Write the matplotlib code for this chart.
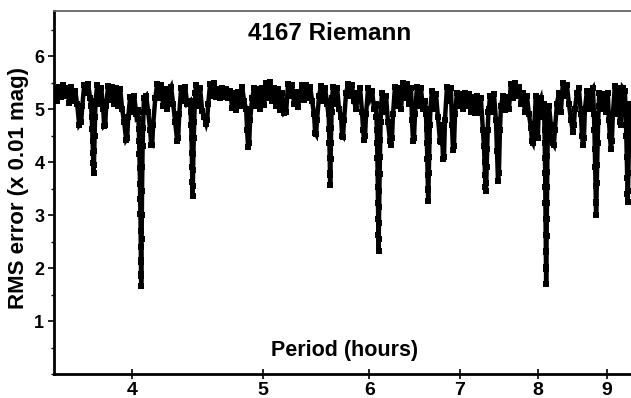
import matplotlib
matplotlib.use("Agg")
import matplotlib.pyplot as plt
from matplotlib.ticker import FixedLocator, NullLocator, MultipleLocator, FixedFormatter

plt.rcParams['font.family'] = ['Liberation Sans', 'DejaVu Sans']
plt.rcParams['font.weight'] = 'bold'

# period spectrum of 4167 Riemann
period = [
    3.507, 3.519, 3.531, 3.543, 3.555, 3.567, 3.580, 3.592, 3.604, 3.617,
    3.629, 3.641, 3.654, 3.666, 3.673, 3.685, 3.698, 3.710, 3.723,
    3.729, 3.733, 3.736, 3.738, 3.741, 3.743, 3.745, 3.747, 3.749, 3.751, 3.754, 3.757,
    3.768, 3.781, 3.794, 3.807, 3.813, 3.820, 3.826, 3.839, 3.852, 3.865,
    3.879, 3.892, 3.906, 3.919, 3.932, 3.946, 3.959, 3.966, 3.973, 3.986,
    4.000, 4.014, 4.028,
    4.040, 4.043, 4.046, 4.048, 4.050, 4.052, 4.054, 4.055, 4.057, 4.058,
    4.059, 4.060, 4.061, 4.062, 4.063, 4.064, 4.065, 4.066, 4.068, 4.070,
    4.072, 4.075, 4.078, 4.081,
    4.097, 4.111, 4.125, 4.132, 4.139, 4.146, 4.161, 4.175, 4.189, 4.203,
    4.218, 4.232, 4.247, 4.261, 4.275, 4.290, 4.305, 4.320, 4.327, 4.335,
    4.349, 4.364, 4.379, 4.394,
    4.415, 4.420, 4.424, 4.427, 4.429, 4.431, 4.433, 4.435, 4.437, 4.439,
    4.441, 4.444, 4.447, 4.451, 4.456,
    4.461, 4.477, 4.492, 4.508, 4.523, 4.539, 4.547, 4.555, 4.570, 4.586,
    4.602, 4.617, 4.633, 4.649, 4.665, 4.681, 4.697, 4.713, 4.729, 4.745,
    4.761, 4.778, 4.794, 4.810, 4.827, 4.843, 4.860, 4.868, 4.876, 4.885,
    4.893, 4.910, 4.927, 4.943, 4.960, 4.977, 4.994, 5.011, 5.029, 5.046,
    5.063, 5.080, 5.098, 5.115, 5.133, 5.150, 5.168, 5.186, 5.204, 5.221,
    5.239, 5.257, 5.275, 5.293, 5.311, 5.329, 5.347, 5.366, 5.384, 5.403,
    5.421, 5.440, 5.458, 5.468, 5.477, 5.486, 5.505, 5.523, 5.543, 5.562,
    5.581,
    5.590, 5.596, 5.600, 5.603, 5.606, 5.608, 5.610, 5.612, 5.614, 5.617,
    5.620, 5.624, 5.628,
    5.638, 5.657, 5.677, 5.696, 5.716, 5.726, 5.735, 5.745, 5.765, 5.784,
    5.804, 5.824, 5.844, 5.864, 5.884, 5.904, 5.924, 5.935, 5.945, 5.955,
    5.965, 5.986, 6.006, 6.027, 6.047,
    6.066, 6.072, 6.076, 6.079, 6.082, 6.084, 6.086, 6.088, 6.090, 6.092,
    6.094, 6.096, 6.098, 6.100, 6.102, 6.105, 6.108, 6.111, 6.115, 6.120,
    6.130, 6.151, 6.172, 6.193, 6.214, 6.225, 6.235, 6.246, 6.267, 6.289,
    6.310, 6.332, 6.354, 6.375, 6.397, 6.419, 6.441, 6.452, 6.463, 6.474,
    6.485, 6.507, 6.529, 6.551, 6.574,
    6.600, 6.608, 6.614, 6.619, 6.623, 6.627, 6.630, 6.633, 6.636, 6.639,
    6.643, 6.647, 6.652, 6.658,
    6.676, 6.699, 6.722, 6.745, 6.768, 6.780, 6.791, 6.803, 6.815, 6.826,
    6.849, 6.872, 6.896, 6.908, 6.920, 6.932, 6.944, 6.967, 6.991, 7.015,
    7.039, 7.064, 7.088, 7.112, 7.136, 7.161, 7.185, 7.210, 7.234, 7.258,
    7.284,
    7.296, 7.304, 7.310, 7.315, 7.320, 7.325, 7.330, 7.336, 7.343, 7.352,
    7.359, 7.371, 7.396, 7.422, 7.447, 7.460, 7.473, 7.485, 7.498, 7.511,
    7.537, 7.562, 7.588, 7.614, 7.640, 7.667, 7.693, 7.719, 7.746, 7.772,
    7.799, 7.825, 7.852, 7.879, 7.906, 7.919, 7.933, 7.946, 7.973, 8.000,
    8.014, 8.042, 8.069,
    8.082, 8.088, 8.092, 8.095, 8.098, 8.100, 8.102, 8.104, 8.106, 8.108,
    8.110, 8.112, 8.114, 8.116, 8.118, 8.120, 8.122, 8.124, 8.126, 8.129,
    8.132, 8.136, 8.140, 8.146,
    8.155, 8.180, 8.208, 8.222, 8.236, 8.265, 8.293, 8.321, 8.350, 8.378,
    8.407, 8.436, 8.465, 8.494, 8.508, 8.523, 8.552, 8.581, 8.611, 8.626,
    8.640, 8.655, 8.670, 8.700, 8.729, 8.759, 8.789,
    8.805, 8.812, 8.818, 8.823, 8.828, 8.833, 8.837, 8.842, 8.847, 8.853,
    8.860, 8.868, 8.877,
    8.885, 8.925, 8.955, 8.986, 9.016, 9.032, 9.047, 9.063, 9.078, 9.094,
    9.125, 9.156, 9.187, 9.203, 9.219, 9.250, 9.282,
    9.296, 9.305, 9.312, 9.318, 9.323, 9.328, 9.333, 9.338, 9.345, 9.353,
    9.362, 9.370, 9.385,
]

rms = [
    5.38, 5.15, 5.42, 5.22, 5.45, 5.25, 5.40, 5.12, 5.42, 5.15,
    5.35, 5.10, 4.70, 4.75, 5.05, 5.45, 5.30, 5.48, 5.20,
    5.05, 4.85, 4.62, 4.40, 4.18, 3.98, 3.80, 3.95, 4.20, 4.50, 4.85, 5.15,
    5.45, 5.10, 5.40, 5.00, 4.68, 4.70, 5.05, 5.44, 5.18, 5.42,
    5.10, 5.40, 5.05, 5.38, 5.00, 4.75, 4.42, 4.45, 4.85, 5.22,
    4.95, 5.25, 4.90,
    4.98, 4.82, 4.62, 4.40, 4.15, 3.88, 3.58, 3.30, 3.02, 2.70,
    2.40, 2.12, 1.88, 1.66, 1.85, 2.15, 2.55, 3.00, 3.45, 3.90,
    4.30, 4.65, 4.95, 5.20,
    5.25, 4.95, 4.60, 4.33, 4.32, 4.70, 5.20, 5.48, 5.20, 5.45,
    5.05, 5.38, 5.00, 5.35, 5.42, 5.10, 4.75, 4.40, 4.45, 4.90,
    5.40, 5.15, 5.42, 5.10,
    5.15, 4.95, 4.70, 4.45, 4.18, 3.90, 3.62, 3.36, 3.55, 3.85,
    4.15, 4.45, 4.75, 5.05, 5.30,
    5.45, 5.05, 5.40, 4.97, 4.85, 4.72, 4.80, 5.10, 5.48, 5.25,
    5.50, 5.22, 5.38, 5.20, 5.40, 5.22, 5.38, 5.20, 5.35, 5.02,
    5.30, 4.98, 5.32, 5.05, 5.42, 5.15, 5.00, 4.60, 4.28, 4.35,
    4.80, 5.20, 5.40, 5.05, 5.38, 5.00, 5.40, 5.08, 5.50, 5.20,
    5.52, 5.15, 5.40, 5.05, 5.38, 4.98, 5.30, 4.92, 4.95, 5.48,
    5.25, 5.45, 5.10, 5.32, 5.03, 5.30, 5.45, 5.18, 5.45, 5.20,
    5.42, 5.15, 4.90, 4.55, 4.52, 4.80, 5.25, 5.44, 5.15, 5.40,
    5.10,
    5.15, 4.90, 4.62, 4.35, 4.08, 3.80, 3.56, 3.75, 4.05, 4.35,
    4.65, 4.95, 5.20,
    5.42, 5.10, 5.40, 5.00, 4.85, 4.50, 4.48, 4.80, 5.30, 5.47,
    5.25, 5.45, 5.15, 5.00, 5.30, 5.40, 4.95, 4.60, 4.42, 4.50,
    4.90, 5.40, 5.22, 5.35, 5.00,
    5.10, 4.85, 4.60, 4.35, 4.08, 3.80, 3.52, 3.22, 2.92, 2.62,
    2.32, 2.55, 2.85, 3.15, 3.45, 3.78, 4.10, 4.42, 4.75, 5.05,
    5.30, 4.95, 5.25, 4.75, 4.40, 4.32, 4.45, 4.90, 5.42, 5.05,
    5.40, 5.00, 5.50, 5.20, 5.48, 5.10, 5.40, 4.80, 4.40, 4.45,
    4.90, 5.42, 5.05, 5.40, 5.00,
    5.15, 4.90, 4.62, 4.35, 4.05, 3.75, 3.48, 3.26, 3.50, 3.80,
    4.10, 4.40, 4.70, 5.00,
    5.35, 5.00, 5.28, 4.85, 4.40, 4.37, 4.70, 4.05, 4.10, 4.80,
    5.42, 5.15, 5.40, 4.70, 4.22, 4.30, 4.90, 5.30, 5.05, 5.28,
    5.00, 5.30, 5.05, 5.28, 4.95, 5.22, 4.93, 5.25, 4.92, 5.20,
    4.60,
    4.30, 4.00, 3.75, 3.52, 3.46, 3.60, 3.90, 4.25, 4.60, 4.95,
    5.00, 5.25, 4.95, 5.28, 4.80, 4.20, 3.65, 3.80, 4.60, 5.05,
    5.25, 4.98, 5.22, 5.00, 5.48, 5.20, 5.50, 5.25, 5.42, 5.10,
    5.30, 4.95, 5.25, 4.90, 4.65, 4.40, 4.36, 4.55, 5.25, 4.45,
    5.10, 5.20, 4.85,
    5.10, 4.85, 4.60, 4.35, 4.08, 3.80, 3.52, 3.22, 2.92, 2.62,
    2.32, 2.02, 1.70, 1.98, 2.30, 2.60, 2.92, 3.22, 3.52, 3.82,
    4.12, 4.42, 4.72, 5.00,
    5.05, 4.70, 4.35, 4.32, 4.60, 5.10, 5.30, 4.95, 5.50, 5.25,
    5.45, 5.10, 4.80, 4.56, 4.70, 5.00, 5.30, 5.40, 4.90, 4.50,
    4.33, 4.45, 5.00, 5.35, 5.00, 5.35, 5.40,
    4.90, 4.60, 4.25, 3.90, 3.55, 3.22, 3.00, 3.25, 3.60, 3.95,
    4.35, 4.75, 5.05,
    5.30, 5.00, 5.28, 4.95, 5.30, 4.80, 4.50, 4.25, 4.40, 4.90,
    5.44, 4.90, 5.40, 4.75, 4.70, 5.40, 5.35,
    4.90, 4.50, 4.10, 3.70, 3.40, 3.25, 3.45, 3.80, 4.20, 4.60,
    5.00, 5.10, 5.00,
]

x_ticks = [4, 5, 6, 7, 8, 9]
y_ticks = [1, 2, 3, 4, 5, 6]

fig = plt.figure(figsize=(6.31, 3.98), dpi=100)
ax = fig.add_axes([0.0856, 0.0603, 0.9144, 0.912])

ax.plot(period, rms, color='black', lw=3.2, marker='s', ms=4.2,
        markeredgewidth=0, solid_joinstyle='miter')

ax.set_xscale('log')
ax.set_xlim(3.50, 9.38)
ax.set_ylim(0, 6.85)
ax.xaxis.set_major_locator(FixedLocator(x_ticks))
ax.xaxis.set_major_formatter(FixedFormatter([str(t) for t in x_ticks]))
ax.xaxis.set_minor_locator(NullLocator())
ax.yaxis.set_major_locator(FixedLocator(y_ticks))
ax.yaxis.set_minor_locator(MultipleLocator(0.5))

ax.tick_params(axis='x', which='major', direction='inout', length=7, width=1.2,
               labelsize=14, pad=2)
ax.tick_params(axis='y', which='major', direction='out', length=4, width=1.2,
               labelsize=13, pad=3)
ax.tick_params(axis='y', which='minor', direction='out', length=2.5, width=1.0)
for lab in ax.get_xticklabels() + ax.get_yticklabels():
    lab.set_fontweight('bold')

ax.spines['left'].set_linewidth(2)
ax.spines['bottom'].set_linewidth(2)
ax.spines['top'].set_linewidth(1.3)
ax.spines['top'].set_color('#666666')
ax.spines['right'].set_visible(False)

ax.text(0.478, 0.939, '4167 Riemann', transform=ax.transAxes, ha='center',
        va='center', fontsize=17.5, fontweight='bold')
ax.text(0.503, 0.066, 'Period (hours)', transform=ax.transAxes, ha='center',
        va='center', fontsize=15.5, fontweight='bold')
ax.set_ylabel('RMS error (x 0.01 mag)', fontsize=16, fontweight='bold')
ax.yaxis.set_label_coords(-0.044, 0.512)

fig.savefig('out.png', dpi=100)
